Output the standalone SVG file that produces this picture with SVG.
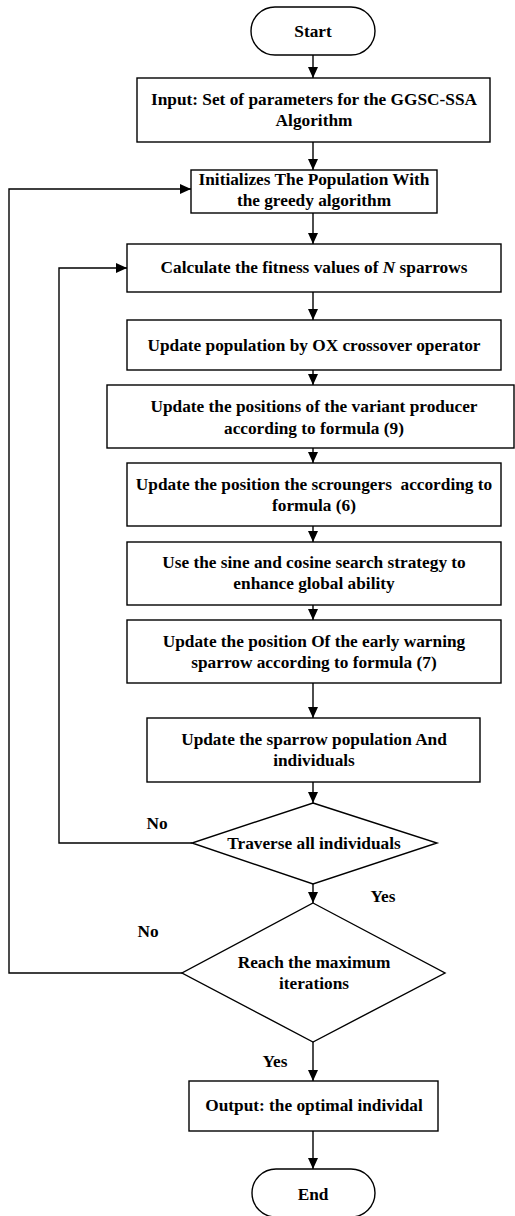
<svg xmlns="http://www.w3.org/2000/svg" width="515" height="1216" viewBox="0 0 515 1216">
<style>
.s{fill:#fff;stroke:#000;stroke-width:1.4}
.c{fill:none;stroke:#000;stroke-width:1.4}
text{font-family:"Liberation Serif","Times New Roman",serif;font-weight:bold;font-size:17.3px;fill:#000;text-anchor:middle}
</style>
<defs>
<marker id="a" markerUnits="userSpaceOnUse" markerWidth="12" markerHeight="12" refX="11" refY="5" orient="auto">
<path d="M0,0 L11,5 L0,10 z" fill="#000"/>
</marker>
</defs>
<g id="connectors">
<line class="c" x1="313" y1="55" x2="313" y2="78" marker-end="url(#a)"/>
<line class="c" x1="313" y1="142" x2="313" y2="170" marker-end="url(#a)"/>
<line class="c" x1="313" y1="213" x2="313" y2="244" marker-end="url(#a)"/>
<line class="c" x1="313" y1="292" x2="313" y2="320" marker-end="url(#a)"/>
<line class="c" x1="313" y1="370" x2="313" y2="385" marker-end="url(#a)"/>
<line class="c" x1="313" y1="448" x2="313" y2="463" marker-end="url(#a)"/>
<line class="c" x1="313" y1="526" x2="313" y2="542" marker-end="url(#a)"/>
<line class="c" x1="313" y1="605" x2="313" y2="620" marker-end="url(#a)"/>
<line class="c" x1="313" y1="683" x2="313" y2="718" marker-end="url(#a)"/>
<line class="c" x1="313" y1="782" x2="313" y2="803" marker-end="url(#a)"/>
<line class="c" x1="313" y1="884" x2="313" y2="903" marker-end="url(#a)"/>
<line class="c" x1="313" y1="1042" x2="313" y2="1081" marker-end="url(#a)"/>
<line class="c" x1="313" y1="1131" x2="313" y2="1169" marker-end="url(#a)"/>
<polyline class="c" points="192,843 59,843 59,268 127,268" marker-end="url(#a)"/>
<polyline class="c" points="182,973 9,973 9,189 191,189" marker-end="url(#a)"/>
<text x="157" y="829">No</text>
<text x="148" y="937">No</text>
<text x="383" y="902">Yes</text>
<text x="275" y="1067">Yes</text>
</g>
<g id="start"><rect class="s" x="251" y="7" width="124" height="48" rx="24"/><text x="313" y="37">Start</text></g>
<g id="input"><rect class="s" x="137" y="78" width="353" height="64"/><text x="314" y="105">Input: Set of parameters for the GGSC-SSA</text><text x="314" y="126">Algorithm</text></g>
<g id="init"><rect class="s" x="191" y="170" width="246" height="43"/><text x="314" y="185">Initializes The Population With</text><text x="314" y="206">the greedy algorithm</text></g>
<g id="calc"><rect class="s" x="127" y="244" width="374" height="48"/><text x="314" y="273">Calculate the fitness values of <tspan font-style="italic">N</tspan> sparrows</text></g>
<g id="ox"><rect class="s" x="127" y="320" width="374" height="50"/><text x="314" y="351">Update population by OX crossover operator</text></g>
<g id="variant"><rect class="s" x="107" y="385" width="407" height="63"/><text x="314" y="412">Update the positions of the variant producer</text><text x="314" y="434">according to formula (9)</text></g>
<g id="scroungers"><rect class="s" x="127" y="463" width="374" height="63"/><text x="314" y="490" xml:space="preserve">Update the position the scroungers  according to</text><text x="314" y="511">formula (6)</text></g>
<g id="sine"><rect class="s" x="127" y="542" width="374" height="63"/><text x="314" y="568">Use the sine and cosine search strategy to</text><text x="314" y="589">enhance global ability</text></g>
<g id="warning"><rect class="s" x="127" y="620" width="374" height="63"/><text x="314" y="647">Update the position Of the early warning</text><text x="314" y="668">sparrow according to formula (7)</text></g>
<g id="updatepop"><rect class="s" x="147" y="718" width="333" height="64"/><text x="314" y="745">Update the sparrow population And</text><text x="314" y="766">individuals</text></g>
<g id="traverse"><polygon class="s" points="313,803 437,843 313,884 192,843"/><text x="314" y="849">Traverse all individuals</text></g>
<g id="reach"><polygon class="s" points="313,903 445,973 313,1042 182,973"/><text x="314" y="968">Reach the maximum</text><text x="314" y="989">iterations</text></g>
<g id="output"><rect class="s" x="189" y="1081" width="249" height="50"/><text x="314" y="1111">Output: the optimal individal</text></g>
<g id="end"><rect class="s" x="252" y="1169" width="123" height="48" rx="24"/><text x="313" y="1200">End</text></g>
</svg>
